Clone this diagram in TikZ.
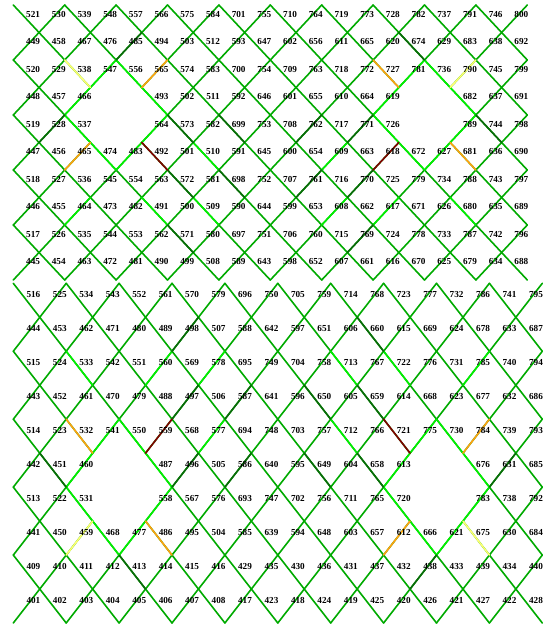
\documentclass[tikz,border=0pt]{standalone}
\usepackage{fontspec}
\setmainfont{Liberation Serif}

% one link drawn in all four symmetric places (top half, its mirror, bottom half, its mirror)
\newcommand\symlink[5]{%
  \pgfmathtruncatemacro\ka{20-#2}\pgfmathtruncatemacro\kb{20-#4}%
  \pgfmathtruncatemacro\ma{10-#3}\pgfmathtruncatemacro\mb{10-#5}%
  \draw[#1] (T#2-#3) -- (T#4-#5);
  \draw[#1] (T\ka-#3) -- (T\kb-#5);
  \draw[#1] (B#2-\ma) -- (B#4-\mb);
  \draw[#1] (B\ka-\ma) -- (B\kb-\mb);
}

\begin{document}
\begin{tikzpicture}[
    link/.style={line width=1.6pt, line cap=round, draw=linkGreen},
    num/.style={font=\fontsize{9.2}{9.2}\selectfont\bfseries, inner sep=0pt,
                text height=6.2pt, text depth=0pt},
  ]
    % Define colours
    \definecolor{linkGreen}{HTML}{00AA00}
    \definecolor{limeGreen}{HTML}{00F000}
    \definecolor{deepGreen}{HTML}{0A6A0A}
    \definecolor{paleYellow}{HTML}{FFFF70}
    \definecolor{amber}{HTML}{FFA010}
    \definecolor{darkRed}{HTML}{800000}

    \useasboundingbox (0,0) rectangle (550pt,-624pt);

    % Top lattice
    \begin{scope}[shift={(13.3pt,-5pt)}, x=25.7pt, y=-27.5pt]
        \foreach \k in {0,...,20} {
            \foreach \m in {0,...,10} {
                \coordinate (T\k-\m) at (\k,\m);
            }
        }
        \foreach \k in {0,...,19} {
            \foreach \m in {0,...,9} {
                \pgfmathtruncatemacro\hole{and(or(\m==3,\m==4),or(or(\k==3,\k==4),or(\k==15,\k==16)))}
                \pgfmathtruncatemacro\kk{\k+1}
                \pgfmathtruncatemacro\mm{\m+1}
                \pgfmathtruncatemacro\parity{mod(\k+\m,2)}
                \ifnum\hole=0
                    \ifnum\parity=0 \draw[link] (T\k-\m) -- (T\kk-\mm);
                    \else \draw[link] (T\k-\mm) -- (T\kk-\m); \fi
                \fi
            }
        }
    \end{scope}

    % Bottom lattice
    \begin{scope}[shift={(13.3pt,-283.3pt)}, x=26.45pt, y=-33.97pt]
        \foreach \k in {0,...,20} {
            \foreach \m in {0,...,10} {
                \coordinate (B\k-\m) at (\k,\m);
            }
        }
        \foreach \k in {0,...,19} {
            \foreach \m in {0,...,9} {
                \pgfmathtruncatemacro\hole{and(or(\m==5,\m==6),or(or(\k==3,\k==4),or(\k==15,\k==16)))}
                \pgfmathtruncatemacro\kk{\k+1}
                \pgfmathtruncatemacro\mm{\m+1}
                \pgfmathtruncatemacro\parity{mod(\k+\m,2)}
                \ifnum\hole=0
                    \ifnum\parity=0 \draw[link] (B\k-\m) -- (B\kk-\mm);
                    \else \draw[link] (B\k-\mm) -- (B\kk-\m); \fi
                \fi
            }
        }
    \end{scope}

    % Coloured links round the holes
    \foreach \a/\b/\c/\d in {2/4/3/3, 3/3/4/2, 4/2/5/3, 5/3/6/4, 6/4/5/5, 5/5/4/6,
                             4/6/3/5, 3/5/2/4, 5/7/6/8, 3/7/2/8, 7/5/8/6, 7/7/8/8} {
        \symlink{link, draw=limeGreen}{\a}{\b}{\c}{\d}
    }
    \foreach \a/\b/\c/\d in {4/2/5/1, 2/4/1/5, 6/4/7/5, 6/6/7/7, 6/8/7/9, 8/4/9/5, 8/6/9/7} {
        \symlink{link, draw=deepGreen}{\a}{\b}{\c}{\d}
    }
    \symlink{link, draw=paleYellow}{2}{2}{3}{3}
    \symlink{link, draw=amber}{5}{3}{6}{2}
    \symlink{link, draw=amber}{3}{5}{2}{6}
    \symlink{link, draw=darkRed}{5}{5}{6}{6}

    % Site numbers, top
    \begin{scope}[shift={(13.3pt,-5pt)}, x=25.7pt, y=-27.5pt]
        \foreach \row [count=\i from 0] in {
            {521,530,539,548,557,566,575,584,701,755,710,764,719,773,728,782,737,791,746,800},
            {449,458,467,476,485,494,503,512,593,647,602,656,611,665,620,674,629,683,638,692},
            {520,529,538,547,556,565,574,583,700,754,709,763,718,772,727,781,736,790,745,799},
            {448,457,466,0,0,493,502,511,592,646,601,655,610,664,619,0,0,682,637,691},
            {519,528,537,0,0,564,573,582,699,753,708,762,717,771,726,0,0,789,744,798},
            {447,456,465,474,483,492,501,510,591,645,600,654,609,663,618,672,627,681,636,690},
            {518,527,536,545,554,563,572,581,698,752,707,761,716,770,725,779,734,788,743,797},
            {446,455,464,473,482,491,500,509,590,644,599,653,608,662,617,671,626,680,635,689},
            {517,526,535,544,553,562,571,580,697,751,706,760,715,769,724,778,733,787,742,796},
            {445,454,463,472,481,490,499,508,589,643,598,652,607,661,616,670,625,679,634,688}} {
            \foreach \lab [count=\j from 0] in \row {
                \ifnum\lab>0 \node[num] (n\lab) at (\j+0.77,\i+0.33) {\lab}; \fi
            }
        }
    \end{scope}

    % Site numbers, bottom
    \begin{scope}[shift={(13.3pt,-283.3pt)}, x=26.45pt, y=-33.97pt]
        \foreach \row [count=\i from 0] in {
            {516,525,534,543,552,561,570,579,696,750,705,759,714,768,723,777,732,786,741,795},
            {444,453,462,471,480,489,498,507,588,642,597,651,606,660,615,669,624,678,633,687},
            {515,524,533,542,551,560,569,578,695,749,704,758,713,767,722,776,731,785,740,794},
            {443,452,461,470,479,488,497,506,587,641,596,650,605,659,614,668,623,677,632,686},
            {514,523,532,541,550,559,568,577,694,748,703,757,712,766,721,775,730,784,739,793},
            {442,451,460,0,0,487,496,505,586,640,595,649,604,658,613,0,0,676,631,685},
            {513,522,531,0,0,558,567,576,693,747,702,756,711,765,720,0,0,783,738,792},
            {441,450,459,468,477,486,495,504,585,639,594,648,603,657,612,666,621,675,630,684},
            {409,410,411,412,413,414,415,416,429,435,430,436,431,437,432,438,433,439,434,440},
            {401,402,403,404,405,406,407,408,417,423,418,424,419,425,420,426,421,427,422,428}} {
            \foreach \lab [count=\j from 0] in \row {
                \ifnum\lab>0 \node[num] (n\lab) at (\j+0.76,\i+0.32) {\lab}; \fi
            }
        }
    \end{scope}
\end{tikzpicture}
\end{document}
